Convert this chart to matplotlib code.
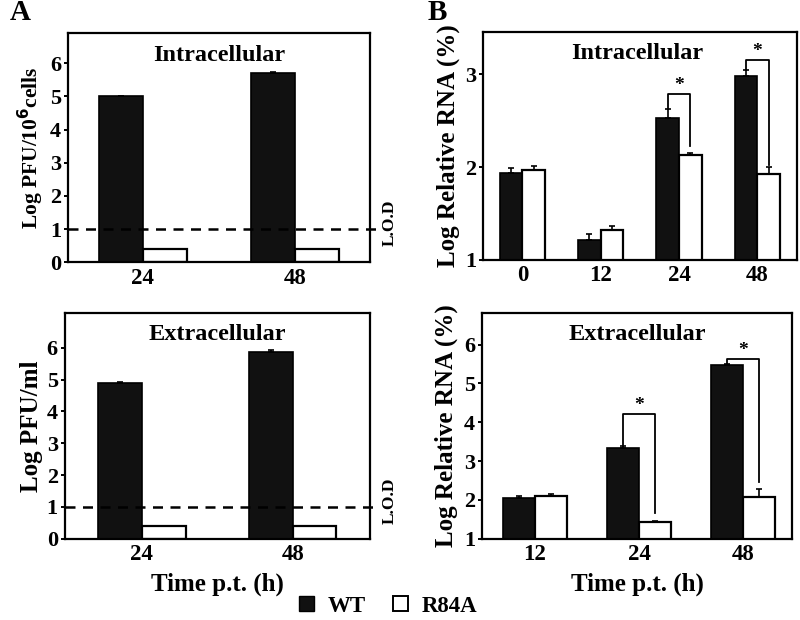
import numpy as np
import matplotlib.pyplot as plt
from matplotlib.patches import Patch

plt.rcParams['font.family'] = ['Liberation Serif', 'DejaVu Serif']
plt.rcParams['font.weight'] = 'bold'
plt.rcParams['axes.labelweight'] = 'bold'
plt.rcParams['mathtext.default'] = 'bf'
plt.rcParams['axes.linewidth'] = 1.6

# panel A - virus titers
a_times = ['24', '48']
a_intra_wt = [5.0, 5.7]
a_intra_wt_err = [0.02, 0.05]
a_intra_mut = [0.4, 0.4]
a_extra_wt = [4.9, 5.87]
a_extra_wt_err = [0.02, 0.05]
a_extra_mut = [0.4, 0.4]
lod = 1

# panel B - relative RNA
b_intra_times = ['0', '12', '24', '48']
b_intra_wt = [1.94, 1.21, 2.53, 2.98]
b_intra_wt_err = [0.05, 0.07, 0.1, 0.07]
b_intra_mut = [1.97, 1.32, 2.13, 1.93]
b_intra_mut_err = [0.04, 0.04, 0.02, 0.07]

b_extra_times = ['12', '24', '48']
b_extra_wt = [2.06, 3.33, 5.47]
b_extra_wt_err = [0.03, 0.05, 0.03]
b_extra_mut = [2.11, 1.44, 2.08]
b_extra_mut_err = [0.05, 0.02, 0.2]

# significance brackets: (index, top of bracket, bottom of right leg)
b_intra_sig = [(2, 2.79, 2.23), (3, 3.16, 2.02)]
b_extra_sig = [(1, 4.22, 1.67), (2, 5.64, 2.47)]


def bars(ax, labels, wt, mut, wt_err=None, mut_err=None, w=0.29):
    x = np.arange(len(labels))
    ekw = dict(ecolor='black', elinewidth=1.2, capsize=2.5, capthick=1.2)
    we = None if wt_err is None else [np.zeros(len(wt)), wt_err]
    me = None if mut_err is None else [np.zeros(len(mut)), mut_err]
    ax.bar(x - w/2, wt, w, yerr=we, color='#111111', edgecolor='black',
           linewidth=1.2, error_kw=ekw, zorder=2)
    ax.bar(x + w/2, mut, w, yerr=me, color='white', edgecolor='black',
           linewidth=1.6, error_kw=ekw, zorder=2)
    ax.set_xticks(x)
    ax.set_xticklabels(labels)
    ax.tick_params(axis='x', length=0, labelsize=16.5, pad=4)
    ax.tick_params(axis='y', direction='out', length=3, width=1.4, labelsize=16, pad=2)
    return x


def sig(ax, x, wt, wt_err, items, w=0.29):
    for i, top, low in items:
        x1 = x[i] - w/2
        x2 = x[i] + w/2
        ax.plot([x1, x1, x2, x2], [wt[i] + wt_err[i], top, top, low],
                color='black', lw=1.3, zorder=3)
        ax.text((x1 + x2)/2, top, '*', ha='center', va='bottom', fontsize=14)


fig = plt.figure(figsize=(8, 6.2), dpi=100)

# A top
ax1 = fig.add_axes([0.085, 0.577, 0.3775, 0.369])
bars(ax1, a_times, a_intra_wt, a_intra_mut, a_intra_wt_err)
ax1.set_xlim(-0.49, 1.49)
ax1.set_ylim(0, 6.9)
ax1.set_yticks(range(0, 7))
ax1.set_ylabel('Log PFU/10$^{6}$cells', fontsize=15.5, labelpad=3)
ax1.text(0.5, 0.95, 'Intracellular', transform=ax1.transAxes, ha='center', va='top', fontsize=17.5)
ax1.plot([-0.49, 1.54], [lod, lod], ls=(0, (4, 3)), color='black', lw=1.8, clip_on=False, zorder=3)
ax1.text(1.62, lod + 0.18, 'L.O.D', rotation=90, ha='center', va='center', fontsize=12.5)

# A bottom
ax2 = fig.add_axes([0.081, 0.131, 0.381, 0.3645])
bars(ax2, a_times, a_extra_wt, a_extra_mut, a_extra_wt_err)
ax2.set_xlim(-0.51, 1.51)
ax2.set_ylim(0, 7.1)
ax2.set_yticks(range(0, 7))
ax2.set_ylabel('Log PFU/ml', fontsize=18, labelpad=3)
ax2.set_xlabel('Time p.t. (h)', fontsize=18, labelpad=5)
ax2.text(0.5, 0.95, 'Extracellular', transform=ax2.transAxes, ha='center', va='top', fontsize=17.5)
ax2.plot([-0.51, 1.56], [lod, lod], ls=(0, (4, 3)), color='black', lw=1.8, clip_on=False, zorder=3)
ax2.text(1.64, lod + 0.2, 'L.O.D', rotation=90, ha='center', va='center', fontsize=12.5)

# B top
ax3 = fig.add_axes([0.604, 0.581, 0.3925, 0.3677])
x3 = bars(ax3, b_intra_times, b_intra_wt, b_intra_mut, b_intra_wt_err, b_intra_mut_err)
ax3.set_xlim(-0.5, 3.51)
ax3.set_ylim(1, 3.46)
ax3.set_yticks([1, 2, 3])
ax3.set_ylabel('Log Relative RNA (%)', fontsize=18, labelpad=4)
ax3.text(0.49, 0.95, 'Intracellular', transform=ax3.transAxes, ha='center', va='top', fontsize=17.5)
sig(ax3, x3, b_intra_wt, b_intra_wt_err, b_intra_sig)

# B bottom
ax4 = fig.add_axes([0.6025, 0.131, 0.3875, 0.3645])
x4 = bars(ax4, b_extra_times, b_extra_wt, b_extra_mut, b_extra_wt_err, b_extra_mut_err, w=0.31)
ax4.set_xlim(-0.51, 2.47)
ax4.set_ylim(1, 6.82)
ax4.set_yticks(range(1, 7))
ax4.set_ylabel('Log Relative RNA (%)', fontsize=18, labelpad=4)
ax4.set_xlabel('Time p.t. (h)', fontsize=18, labelpad=5)
ax4.text(0.5, 0.95, 'Extracellular', transform=ax4.transAxes, ha='center', va='top', fontsize=17.5)
sig(ax4, x4, b_extra_wt, b_extra_wt_err, b_extra_sig, w=0.31)

fig.text(0.012, 0.98, 'A', fontsize=21, va='center')
fig.text(0.535, 0.98, 'B', fontsize=21, va='center')

handles = [Patch(facecolor='#111111', edgecolor='black', label='WT'),
           Patch(facecolor='white', edgecolor='black', lw=1.4, label='R84A')]
fig.legend(handles=handles, loc='center', bbox_to_anchor=(0.485, 0.022), ncol=2, frameon=False,
           fontsize=16.5, handlelength=0.65, handleheight=0.65, handletextpad=0.6, columnspacing=1.2)

fig.savefig('out.png', dpi=100)
